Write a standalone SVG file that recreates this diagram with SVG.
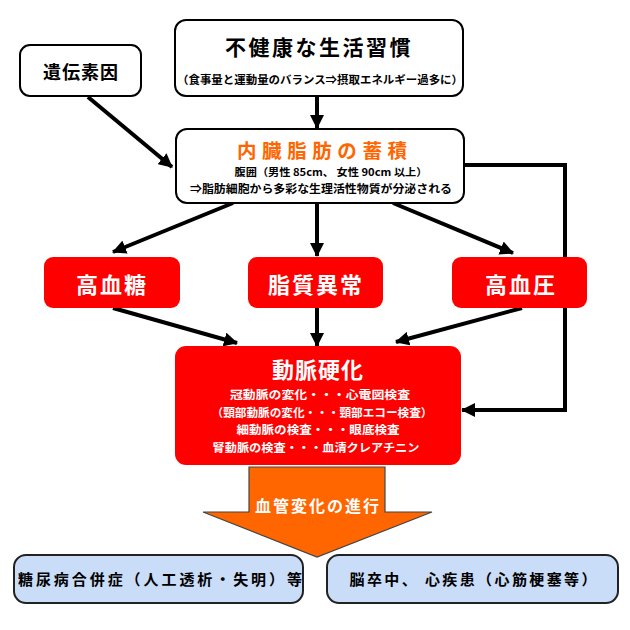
<svg xmlns="http://www.w3.org/2000/svg" width="630" height="630" viewBox="0 0 630 630">
<style>
text{font-family:"Noto Sans CJK JP","Noto Sans",sans-serif;font-weight:bold;text-anchor:middle}
.wbox{fill:#fff;stroke:#000;stroke-width:2}
.rbox{fill:#ff0000;stroke:none}
.bbox{fill:#c9dcf8;stroke:#222;stroke-width:2}
.wt{fill:#fff}
.bt{fill:#000}
.conn{fill:none;stroke:#000;stroke-width:4}
</style>
<defs>
<marker id="ah" markerUnits="userSpaceOnUse" markerWidth="14" markerHeight="14" viewBox="0 0 14 14" refX="13" refY="7" orient="auto">
<path d="M0,0 L14,7 L0,14 z" fill="#000"/>
</marker>
</defs>
<g id="connectors">
<line class="conn" x1="88" y1="97" x2="172" y2="167" marker-end="url(#ah)"/>
<line class="conn" x1="317" y1="97" x2="317" y2="128" marker-end="url(#ah)"/>
<line class="conn" x1="233" y1="203" x2="113" y2="252" marker-end="url(#ah)"/>
<line class="conn" x1="317" y1="203" x2="317" y2="256" marker-end="url(#ah)"/>
<line class="conn" x1="393" y1="203" x2="513" y2="253" marker-end="url(#ah)"/>
<line class="conn" x1="113" y1="308" x2="237" y2="343" marker-end="url(#ah)"/>
<line class="conn" x1="317" y1="308" x2="317" y2="346" marker-end="url(#ah)"/>
<line class="conn" x1="522" y1="308" x2="396" y2="342" marker-end="url(#ah)"/>
<polyline class="conn" points="464,165 565,165 565,410 462,410" marker-end="url(#ah)"/>
</g>
<g id="n-unhealthy">
<rect class="wbox" x="175" y="20" width="288" height="76" rx="11"/>
<text class="bt" x="319" y="55" font-size="21" letter-spacing="2.5">不健康な生活習慣</text>
<text class="bt" x="320" y="84" font-size="11" font-weight="normal" textLength="286" lengthAdjust="spacingAndGlyphs">（食事量と運動量のバランス⇒摂取エネルギー過多に）</text>
</g>
<g id="n-genetic">
<rect class="wbox" x="20" y="45" width="121" height="51" rx="10"/>
<text class="bt" x="81" y="79" font-size="18" letter-spacing="1">遺伝素因</text>
</g>
<g id="n-visceral">
<rect class="wbox" x="176" y="129" width="288" height="74" rx="11"/>
<text x="322" y="158" font-size="19.5" fill="#ff6600" textLength="170" lengthAdjust="spacing">内臓脂肪の蓄積</text>
<text class="bt" x="331" y="176" font-size="10.5" font-weight="normal" textLength="193" lengthAdjust="spacingAndGlyphs">腹囲（男性 85cm、 女性 90cm 以上）</text>
<text class="bt" x="321" y="193" font-size="11" font-weight="normal" textLength="262" lengthAdjust="spacingAndGlyphs">⇒脂肪細胞から多彩な生理活性物質が分泌される</text>
</g>
<g id="n-glucose">
<rect class="rbox" x="44" y="257" width="136" height="51" rx="9"/>
<text class="wt" x="112" y="293" font-size="22" letter-spacing="2">高血糖</text>
</g>
<g id="n-lipid">
<rect class="rbox" x="248" y="257" width="135" height="51" rx="9"/>
<text class="wt" x="316" y="293" font-size="22" letter-spacing="2">脂質異常</text>
</g>
<g id="n-pressure">
<rect class="rbox" x="452" y="257" width="135" height="51" rx="9"/>
<text class="wt" x="521" y="293" font-size="22" letter-spacing="2">高血圧</text>
</g>
<g id="n-athero">
<rect class="rbox" x="175" y="346" width="286" height="119" rx="11"/>
<text class="wt" x="318" y="378" font-size="22" letter-spacing="1">動脈硬化</text>
<text class="wt" x="320" y="399" font-size="11.5" textLength="180" lengthAdjust="spacingAndGlyphs">冠動脈の変化・・・心電図検査</text>
<text class="wt" x="322" y="416.5" font-size="11.5" textLength="221" lengthAdjust="spacingAndGlyphs">（頸部動脈の変化・・・頸部エコー検査）</text>
<text class="wt" x="318" y="434" font-size="11.5" textLength="163" lengthAdjust="spacingAndGlyphs">細動脈の検査・・・眼底検査</text>
<text class="wt" x="316" y="451.5" font-size="11.5" textLength="207" lengthAdjust="spacingAndGlyphs">腎動脈の検査・・・血清クレアチニン</text>
</g>
<g id="n-left">
<rect class="bbox" x="14" y="555" width="289" height="48" rx="12"/>
<text class="bt" x="160" y="585" font-size="15" textLength="284" lengthAdjust="spacing">糖尿病合併症（人工透析・失明）等</text>
</g>
<g id="n-right">
<rect class="bbox" x="327" y="555" width="291" height="48" rx="12"/>
<text class="bt" x="473" y="585" font-size="15" textLength="247" lengthAdjust="spacing">脳卒中、 心疾患（心筋梗塞等）</text>
</g>
<g id="n-progress">
<path d="M249,467 L385,467 L385,512 L432,512 L317,557 L203,512 L249,512 Z" fill="#ff6600" stroke="#444" stroke-width="1.2"/>
<text class="wt" x="318" y="512" font-size="16" letter-spacing="2">血管変化の進行</text>
</g>
</svg>
